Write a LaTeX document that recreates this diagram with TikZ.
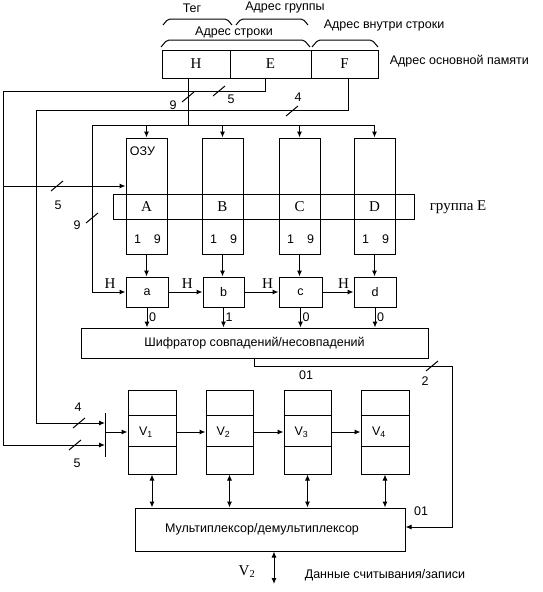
\documentclass[tikz,border=0pt]{standalone}
\usepackage{fontspec}
\setmainfont{Liberation Sans}
\newfontfamily\letterfont{Liberation Serif}
\usetikzlibrary{arrows.meta}

% short slash across a bus, with its width written beside it
\newcommand{\busmark}[1]{\draw (#1) ++(-6,5) -- ++(12,-10);}

\begin{document}
\begin{tikzpicture}[
        x=1pt, y=-1pt,
        line width=1pt,
        block/.style={draw, inner sep=0pt},
        bus/.style={-{Latex[length=6pt,width=5pt]}},
        dbus/.style={{Latex[length=6pt,width=5pt]}-{Latex[length=6pt,width=5pt]}},
        brace/.style={rounded corners=2pt},
        label/.style={font=\fontsize{12.5}{14}\selectfont},
        letter/.style={font=\letterfont\fontsize{15}{17}\selectfont}
      ]
        \useasboundingbox (0,0) rectangle (542,592);

% Main memory address
        \node[block, letter, minimum width=68pt, minimum height=28pt] (H) at (196,64) {H};
        \node[block, letter, minimum width=81pt, minimum height=28pt] (E) at (270.5,64) {E};
        \node[block, letter, minimum width=67pt, minimum height=28pt] (F) at (344.5,64) {F};
        \node[label, anchor=west] (mainaddr) at (386,61) {Адрес основной памяти};

% Address fields
        \draw[brace] (163,25) -- (168,19) -- (227,19) -- (232,25);
        \draw[brace] (236,25) -- (241,19) -- (303,19) -- (308,25);
        \draw[brace] (161,47) -- (167,40) -- (304,40) -- (310,47);
        \draw[brace] (312,47) -- (318,40) -- (372,40) -- (378,47);
        \node[label] (tag) at (192,8) {Тег};
        \node[label] (group) at (285,7) {Адрес группы};
        \node[label] (row) at (234,32) {Адрес строки};
        \node[label, anchor=west] (inrow) at (320,25) {Адрес внутри строки};

% Cache memory columns
        \node[block, minimum width=301pt, minimum height=25pt] (grpE) at (263.5,206.5) {};
        \node[block, minimum width=41pt, minimum height=116pt] (A) at (146.5,196) {};
        \node[block, minimum width=41pt, minimum height=116pt] (B) at (222.5,196) {};
        \node[block, minimum width=41pt, minimum height=116pt] (C) at (299.5,196) {};
        \node[block, minimum width=41pt, minimum height=116pt] (D) at (374.5,196) {};
        \node[letter] (Atxt) at (146.5,207) {A};
        \node[letter] (Btxt) at (222.5,207) {B};
        \node[letter] (Ctxt) at (299.5,207) {C};
        \node[letter] (Dtxt) at (374.5,207) {D};
        \node[label] (ram) at (142.5,151) {ОЗУ};
        \node[label] (Abits) at (147.5,239) {1\hspace{13pt}9};
        \node[label] (Bbits) at (223.5,239) {1\hspace{13pt}9};
        \node[label] (Cbits) at (300.5,239) {1\hspace{13pt}9};
        \node[label] (Dbits) at (375.5,239) {1\hspace{13pt}9};
        \node[letter, anchor=west] (grpEtxt) at (426,207) {группа E};

% Comparators
        \node[block, label, minimum width=42pt, minimum height=30pt] (a) at (147,292) {a};
        \node[block, label, minimum width=41pt, minimum height=30pt] (b) at (223.5,292) {b};
        \node[block, label, minimum width=43pt, minimum height=30pt] (c) at (300.5,292) {c};
        \node[block, label, minimum width=42pt, minimum height=30pt] (d) at (375,292) {d};

% Encoder
        \node[block, label, minimum width=347pt, minimum height=30pt] (enc) at (254.5,343)
          {Шифратор совпадений/несовпадений};

% Data blocks
        \node[block, minimum width=48pt, minimum height=84pt] (V1) at (152,432) {};
        \node[block, minimum width=47pt, minimum height=84pt] (V2) at (229.5,432) {};
        \node[block, minimum width=47pt, minimum height=84pt] (V3) at (307.5,432) {};
        \node[block, minimum width=48pt, minimum height=84pt] (V4) at (385,432) {};
        \draw ([yshift=-26pt]V1.north west) -- ([yshift=-26pt]V1.north east);
        \draw ([yshift=-26pt]V2.north west) -- ([yshift=-26pt]V2.north east);
        \draw ([yshift=-26pt]V3.north west) -- ([yshift=-26pt]V3.north east);
        \draw ([yshift=-26pt]V4.north west) -- ([yshift=-26pt]V4.north east);
        \draw ([yshift=28pt]V1.south west) -- ([yshift=28pt]V1.south east);
        \draw ([yshift=28pt]V2.south west) -- ([yshift=28pt]V2.south east);
        \draw ([yshift=28pt]V3.south west) -- ([yshift=28pt]V3.south east);
        \draw ([yshift=28pt]V4.south west) -- ([yshift=28pt]V4.south east);
        \node[label] (V1txt) at (146,432) {V\textsubscript{1}};
        \node[label] (V2txt) at (223.5,432) {V\textsubscript{2}};
        \node[label] (V3txt) at (301.5,432) {V\textsubscript{3}};
        \node[label] (V4txt) at (379,432) {V\textsubscript{4}};

% Multiplexer
        \node[block, minimum width=270pt, minimum height=43pt] (mux) at (270,529.5) {};
        \node[label] (muxtxt) at (262,529) {Мультиплексор/демультиплексор};

% Bus turning points
        \coordinate (hbusL) at (92,125);
        \coordinate (hbusR) at (374.5,125);
        \coordinate (eleft) at (3,91);
        \coordinate (ebranch) at (3,186);
        \coordinate (fleft) at (36,110);
        \coordinate (barT) at (105,413);
        \coordinate (barB) at (105,457);
        \coordinate (barF) at (105,423);
        \coordinate (barE) at (105,445);
        \coordinate (encR) at (452,366);
        \coordinate (dataout) at (274,584);

% Tag bus H
        \draw ([xshift=-8pt]H.south) -- ([xshift=-8pt]H.south |- hbusL);
        \draw (hbusL) -- (hbusR);
        \draw[bus] (A.north |- hbusL) -- (A.north);
        \draw[bus] (B.north |- hbusL) -- (B.north);
        \draw[bus] (C.north |- hbusL) -- (C.north);
        \draw[bus] (hbusR) -- (D.north);
        \draw[bus] (hbusL) |- (a.west) node[letter, pos=0.77, above] (Ha) {H};

% Group bus E and word bus F
        \draw[bus] ([xshift=-5.5pt]E.south) |- (eleft) |- (barE);
        \draw[bus] (ebranch) -- (ebranch -| A.west);
        \draw[bus] ([xshift=3.5pt]F.south) |- (fleft) |- (barF);
        \draw (barT) -- (barB);
        \draw[bus] (barT |- V1.west) -- (V1.west);

% Bus widths
        \busmark{188,97}
        \busmark{219,91}
        \busmark{292,111}
        \busmark{92,218}
        \busmark{57,186}
        \busmark{79,423}
        \busmark{75,445}
        \busmark{432,366}
        \node[label] (w9top) at (173,105) {9};
        \node[label] (w5top) at (231,99) {5};
        \node[label] (w4top) at (298,97) {4};
        \node[label] (w9left) at (77,225) {9};
        \node[label] (w5left) at (58,205) {5};
        \node[label] (w4bar) at (78,407) {4};
        \node[label] (w5bar) at (77,463) {5};
        \node[label] (w2enc) at (425,381) {2};

% Compare chain
        \draw[bus] (A.south) -- (A.south |- a.north);
        \draw[bus] (B.south) -- (B.south |- b.north);
        \draw[bus] (C.south) -- (C.south |- c.north);
        \draw[bus] (D.south) -- (D.south |- d.north);
        \draw[bus] (a.east) -- (b.west) node[letter, pos=0.55, above] (Hb) {H};
        \draw[bus] (b.east) -- (c.west) node[letter, pos=0.68, above] (Hc) {H};
        \draw[bus] (c.east) -- (d.west) node[letter, pos=0.68, above] (Hd) {H};

% Hit / miss signals
        \draw[bus] (a.south) -- (a.south |- enc.north) node[label, pos=0.5, right, inner sep=1.5pt] (hita) {0};
        \draw[bus] (b.south) -- (b.south |- enc.north) node[label, pos=0.5, right, inner sep=1.5pt] (hitb) {1};
        \draw[bus] (c.south) -- (c.south |- enc.north) node[label, pos=0.5, right, inner sep=1.5pt] (hitc) {0};
        \draw[bus] (d.south) -- (d.south |- enc.north) node[label, pos=0.5, right, inner sep=1.5pt] (hitd) {0};
        \draw[bus] (enc.south) |- (encR) |- ([yshift=2.5pt]mux.east);
        \node[label] (code1) at (306,375) {01};
        \node[label] (code2) at (421,511) {01};

% Data paths
        \draw[bus] (V1.east) -- (V2.west);
        \draw[bus] (V2.east) -- (V3.west);
        \draw[bus] (V3.east) -- (V4.west);
        \draw[dbus] (V1.south) -- (V1.south |- mux.north);
        \draw[dbus] (V2.south) -- (V2.south |- mux.north);
        \draw[dbus] (V3.south) -- (V3.south |- mux.north);
        \draw[dbus] (V4.south) -- (V4.south |- mux.north);
        \draw[dbus] ([xshift=4pt]mux.south) -- (dataout);
        \node[letter] (V2out) at (247,572) {V\textsubscript{2}};
        \node[label, anchor=west] (rwdata) at (301,575) {Данные считывания/записи};

      \end{tikzpicture}
\end{document}
